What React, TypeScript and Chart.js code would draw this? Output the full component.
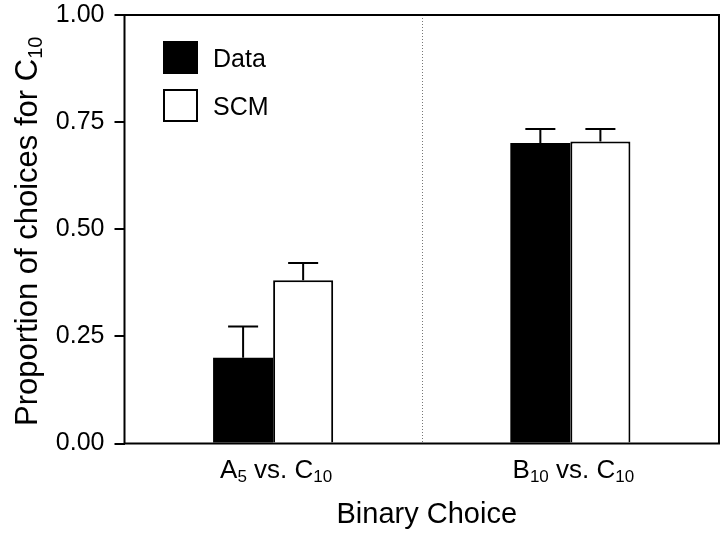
import React, { useEffect, useRef } from "react";
import { Chart, registerables } from "chart.js";

Chart.register(...registerables);

// ---- data ----
const categories = ["A_{5} vs. C_{10}", "B_{10} vs. C_{10}"];
const seriesNames = ["Data", "SCM"];
const dataValues = [0.2, 0.701];
const dataErrors = [0.073, 0.033];
const scmValues = [0.381, 0.705];
const scmErrors = [0.04, 0.029];
const yTicks = [0, 0.25, 0.5, 0.75, 1.0];
const yTitle = "Proportion of choices for C_{10}";
const xTitle = "Binary Choice";

const FONT = "'Liberation Sans', Arial, Helvetica, sans-serif";

type Seg = { t: string; sub: boolean };
function parseRich(s: string): Seg[] {
  const out: Seg[] = [];
  const re = /_\{([^}]*)\}/g;
  let last = 0;
  let m: RegExpExecArray | null;
  while ((m = re.exec(s)) !== null) {
    if (m.index > last) out.push({ t: s.slice(last, m.index), sub: false });
    out.push({ t: m[1], sub: true });
    last = m.index + m[0].length;
  }
  if (last < s.length) out.push({ t: s.slice(last), sub: false });
  return out;
}

function richWidth(ctx: CanvasRenderingContext2D, segs: Seg[], size: number, subSize: number) {
  let w = 0;
  for (const sg of segs) {
    ctx.font = `${sg.sub ? subSize : size}px ${FONT}`;
    w += ctx.measureText(sg.t).width;
  }
  return w;
}

function drawRich(
  ctx: CanvasRenderingContext2D,
  segs: Seg[],
  x: number,
  y: number,
  size: number,
  subSize: number,
  subDrop: number
) {
  let cx = x;
  ctx.textAlign = "left";
  ctx.textBaseline = "alphabetic";
  for (const sg of segs) {
    ctx.font = `${sg.sub ? subSize : size}px ${FONT}`;
    ctx.fillText(sg.t, cx, y + (sg.sub ? subDrop : 0));
    cx += ctx.measureText(sg.t).width;
  }
}

const errorValues = [dataErrors, scmErrors];

const customPlugin = {
  id: "customDecor",
  afterDatasetsDraw(chart: any) {
    const { ctx, chartArea, scales } = chart;
    const { left, right, top, bottom } = chartArea;
    const xs = scales.x;
    const ys = scales.y;
    ctx.save();

    // divider between categories
    const xDiv = (xs.getPixelForValue(0) + xs.getPixelForValue(1)) / 2;
    ctx.strokeStyle = "#777";
    ctx.lineWidth = 1;
    ctx.setLineDash([1, 2]);
    ctx.beginPath();
    ctx.moveTo(Math.round(xDiv) + 0.5, top);
    ctx.lineTo(Math.round(xDiv) + 0.5, bottom);
    ctx.stroke();
    ctx.setLineDash([]);

    // error bars (upward only)
    ctx.strokeStyle = "#000";
    ctx.lineWidth = 2;
    chart.data.datasets.forEach((ds: any, di: number) => {
      const meta = chart.getDatasetMeta(di);
      meta.data.forEach((el: any, i: number) => {
        const v = ds.data[i];
        const e = errorValues[di][i];
        const yTop = ys.getPixelForValue(v + e);
        const half = el.width / 4;
        ctx.beginPath();
        ctx.moveTo(el.x, el.y);
        ctx.lineTo(el.x, yTop);
        ctx.moveTo(el.x - half, yTop);
        ctx.lineTo(el.x + half, yTop);
        ctx.stroke();
      });
    });

    // frame
    ctx.strokeStyle = "#000";
    ctx.lineWidth = 2;
    ctx.strokeRect(left, top, right - left, bottom - top);

    // legend
    const lx = left + 38.5;
    const ly = top + 26;
    ctx.fillStyle = "#000";
    ctx.fillRect(lx, ly, 35, 33);
    ctx.fillStyle = "#fff";
    ctx.fillRect(lx + 1, ly + 49, 33, 31);
    ctx.strokeStyle = "#000";
    ctx.lineWidth = 2;
    ctx.strokeRect(lx + 1, ly + 49, 33, 31);
    ctx.fillStyle = "#000";
    ctx.font = `25px ${FONT}`;
    ctx.textAlign = "left";
    ctx.textBaseline = "alphabetic";
    ctx.fillText(seriesNames[0], lx + 50, ly + 26);
    ctx.fillText(seriesNames[1], lx + 50, ly + 74);

    // x category labels with subscripts
    categories.forEach((c, i) => {
      const segs = parseRich(c);
      const w = richWidth(ctx, segs, 26, 17);
      const cx = xs.getPixelForValue(i);
      drawRich(ctx, segs, cx - w / 2 + 3, 478, 26, 17, 4);
    });

    // x title
    ctx.font = `29px ${FONT}`;
    ctx.textAlign = "center";
    ctx.fillText(xTitle, (left + right) / 2 + 5, 523);

    // y title rotated
    const ysegs = parseRich(yTitle);
    const yw = richWidth(ctx, ysegs, 31, 20);
    ctx.translate(37, (top + bottom) / 2 + 2);
    ctx.rotate(-Math.PI / 2);
    drawRich(ctx, ysegs, -yw / 2, 0, 31, 20, 5);

    ctx.restore();
  },
};

export default function App() {
  const ref = useRef<HTMLCanvasElement | null>(null);
  useEffect(() => {
    if (!ref.current) return;
    const chart = new Chart(ref.current, {
      type: "bar",
      data: {
        labels: categories,
        datasets: [
          {
            label: seriesNames[0],
            data: dataValues,
            backgroundColor: "#000",
            borderColor: "#000",
            borderWidth: 0,
          },
          {
            label: seriesNames[1],
            data: scmValues,
            backgroundColor: "#fff",
            borderColor: "#000",
            borderWidth: 2,
          },
        ],
      },
      options: {
        animation: false,
        responsive: true,
        maintainAspectRatio: false,
        layout: { padding: { left: 0, right: 7, top: 15, bottom: 0 } },
        plugins: {
          legend: { display: false },
          tooltip: { enabled: false },
          title: { display: false },
        },
        datasets: {
          bar: { categoryPercentage: 0.404, barPercentage: 1.0 },
        },
        scales: {
          x: {
            grid: { display: false },
            border: { display: false },
            ticks: { display: false },
            afterFit: (s: any) => {
              s.height = 96.5;
              s.paddingLeft = 0;
              s.paddingRight = 0;
            },
          },
          y: {
            min: 0,
            max: 1,
            afterBuildTicks: (s: any) => {
              s.ticks = yTicks.map((v) => ({ value: v }));
            },
            ticks: {
              callback: (v: any) => Number(v).toFixed(2),
              color: "#000",
              font: { size: 25, family: FONT },
              padding: 10,
            },
            grid: {
              drawOnChartArea: false,
              drawTicks: true,
              tickLength: 10,
              color: "#000",
              lineWidth: 2,
            },
            border: { display: false },
            afterFit: (s: any) => {
              s.width = 124.5;
              s.paddingTop = 0;
              s.paddingBottom = 0;
            },
          },
        },
      },
      plugins: [customPlugin],
    });
    return () => chart.destroy();
  }, []);
  return (
    <div style={{ position: "fixed", left: 0, top: 0, width: 726, height: 540, background: "#fff" }}>
      <canvas ref={ref} />
    </div>
  );
}
